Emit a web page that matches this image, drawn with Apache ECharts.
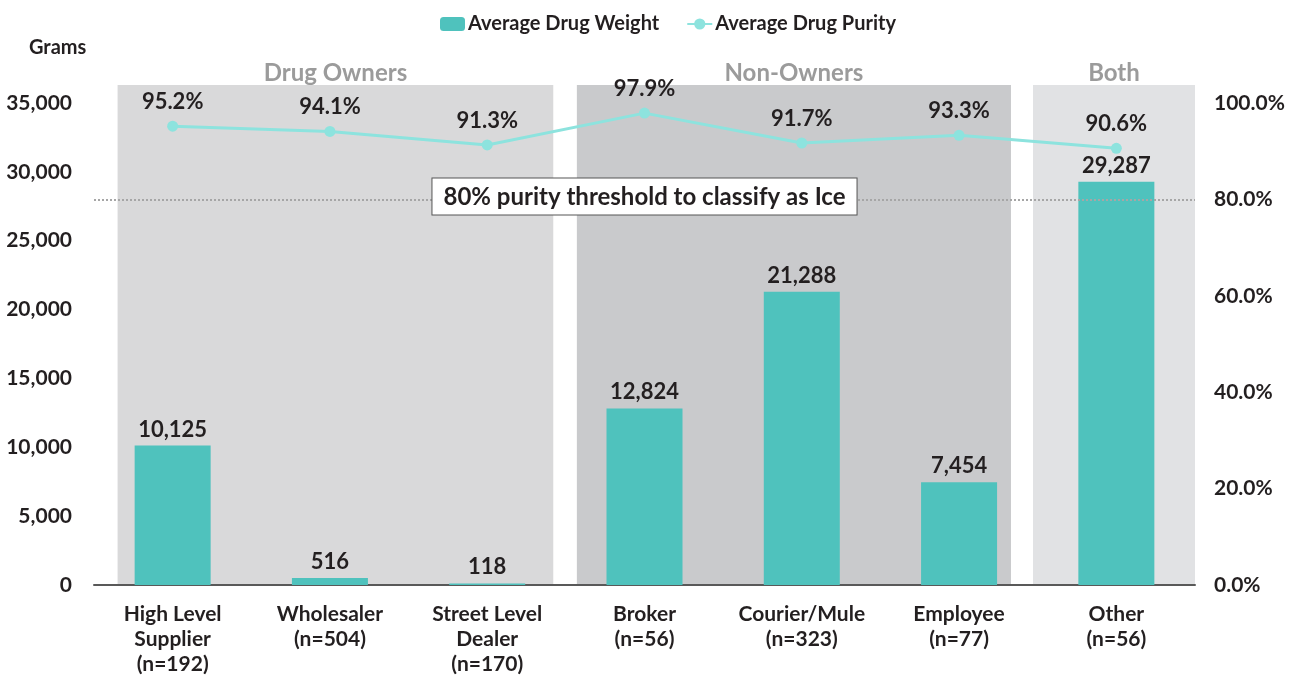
<!DOCTYPE html>
<html>
<head>
<meta charset="utf-8">
<script src="https://cdn.jsdelivr.net/npm/echarts@6/dist/echarts.min.js"></script>
<style>
	html, body { margin: 0; padding: 0; background: #fff; }
	#chart { width: 1296px; height: 677px; }
</style>
</head>
<body>
<div id="chart"></div>
<script>
// categories and values
var categories = ['High Level\nSupplier\n(n=192)', 'Wholesaler\n(n=504)', 'Street Level\nDealer\n(n=170)', 'Broker\n(n=56)', 'Courier/Mule\n(n=323)', 'Employee\n(n=77)', 'Other\n(n=56)'];
var drugWeight = [10125, 516, 118, 12824, 21288, 7454, 29287];
var drugPurity = [95.2, 94.1, 91.3, 97.9, 91.7, 93.3, 90.6];
var groupNames = ['Drug Owners', 'Non-Owners', 'Both'];
var groupFirst = [0, 3, 6];
var groupLast = [2, 5, 6];
var threshold = 80;
var thresholdText = '80% purity threshold to classify as Ice';

var fontFam = 'Lato, "Noto Sans", sans-serif';
var dark = '#231f20';

// band look (how far each shaded block reaches past its first / last category)
var bandColors = ['#d9d9da', '#c9cacc', '#e1e2e4'];
var bandPadL = [0.35, 0.43, 0.53];
var bandPadR = [0.42, 0.33, 0.5];

var myChart = echarts.init(document.getElementById('chart'));

var option = {
	animation: false,
	textStyle: { fontFamily: fontFam },
	title: {
		text: 'Grams',
		left: 24,
		top: 33,
		textStyle: { fontFamily: fontFam, fontSize: 20, fontWeight: 'bold', color: dark }
	},
	legend: {
		data: ['Average Drug Weight', 'Average Drug Purity'],
		top: 9,
		left: 435,
		itemWidth: 25,
		itemHeight: 14,
		itemGap: 27,
		textStyle: { fontFamily: fontFam, fontSize: 20, fontWeight: 'bold', color: dark, padding: [0, 0, 0, -2] }
	},
	grid: {
		left: 94,
		right: 101,
		top: 103,
		bottom: 90,
		containLabel: false
	},
	xAxis: [{
		type: 'category',
		data: categories,
		axisLine: { lineStyle: { color: '#595959', width: 2 } },
		axisTick: { show: false },
		axisLabel: {
			interval: 0,
			margin: 17,
			lineHeight: 25,
			fontFamily: fontFam,
			fontSize: 21,
			fontWeight: 'bold',
			color: dark
		}
	}, {
		type: 'value',
		min: -0.5,
		max: 6.5,
		show: false
	}],
	yAxis: [{
		type: 'value',
		min: 0,
		max: 35000,
		interval: 5000,
		splitLine: { show: false },
		axisLine: { show: false },
		axisTick: { show: false },
		axisLabel: {
			margin: 22,
			fontFamily: fontFam,
			fontSize: 21,
			fontWeight: 'bold',
			color: dark,
			formatter: function (v) { return v.toLocaleString('en-US'); }
		}
	}, {
		type: 'value',
		min: 0,
		max: 100,
		interval: 20,
		splitLine: { show: false },
		axisLine: { show: false },
		axisTick: { show: false },
		axisLabel: {
			margin: 19,
			fontFamily: fontFam,
			fontSize: 21,
			fontWeight: 'bold',
			color: dark,
			formatter: function (v) { return v.toFixed(1) + '%'; }
		}
	}],
	series: [{
		// shaded group blocks behind the bars
		type: 'custom',
		xAxisIndex: 1,
		yAxisIndex: 0,
		silent: true,
		z: 0,
		data: groupNames.map(function (n, i) { return [groupFirst[i], groupLast[i], i]; }),
		renderItem: function (params, api) {
			var i = api.value(2);
			var p0 = api.coord([api.value(0) - bandPadL[i], 0]);
			var p1 = api.coord([api.value(1) + bandPadR[i], 35000]);
			var top = p1[1] - 18;
			return {
				type: 'group',
				children: [{
					type: 'rect',
					shape: { x: p0[0], y: top, width: p1[0] - p0[0], height: p0[1] - top },
					style: { fill: bandColors[i] }
				}, {
					type: 'text',
					x: (p0[0] + p1[0]) / 2,
					y: top - 12,
					style: {
						text: groupNames[i],
						fill: '#9b9b9b',
						font: 'bold 24px ' + fontFam,
						align: 'center',
						verticalAlign: 'middle'
					}
				}]
			};
		}
	}, {
		name: 'Average Drug Weight',
		type: 'bar',
		data: drugWeight,
		barWidth: 76,
		z: 2,
		itemStyle: { color: '#4fc2bd' },
		label: {
			show: true,
			position: 'top',
			distance: 5,
			fontFamily: fontFam,
			fontSize: 22,
			fontWeight: 'bold',
			color: dark,
			formatter: function (p) { return p.value.toLocaleString('en-US'); }
		},
		markLine: {
			silent: true,
			symbol: 'none',
			lineStyle: { color: '#a6a6a6', type: 'dotted', width: 2 },
			label: {
				position: 'middle',
				distance: 0,
				offset: [0, 15],
				formatter: thresholdText,
				fontFamily: fontFam,
				fontSize: 24,
				fontWeight: 'bold',
				color: dark,
				backgroundColor: '#fff',
				borderColor: '#555',
				borderWidth: 1,
				padding: [7, 11, 5, 11]
			},
			data: [{ yAxis: threshold / 100 * 35000 }]
		}
	}, {
		name: 'Average Drug Purity',
		type: 'line',
		yAxisIndex: 1,
		data: drugPurity,
		z: 3,
		symbol: 'circle',
		symbolSize: 11,
		lineStyle: { color: '#8de3de', width: 3 },
		itemStyle: { color: '#8de3de' },
		label: {
			show: true,
			position: 'top',
			distance: 8,
			fontFamily: fontFam,
			fontSize: 22,
			fontWeight: 'bold',
			color: dark,
			formatter: function (p) { return p.value.toFixed(1) + '%'; }
		}
	}]
};

myChart.setOption(option);
</script>
</body>
</html>
